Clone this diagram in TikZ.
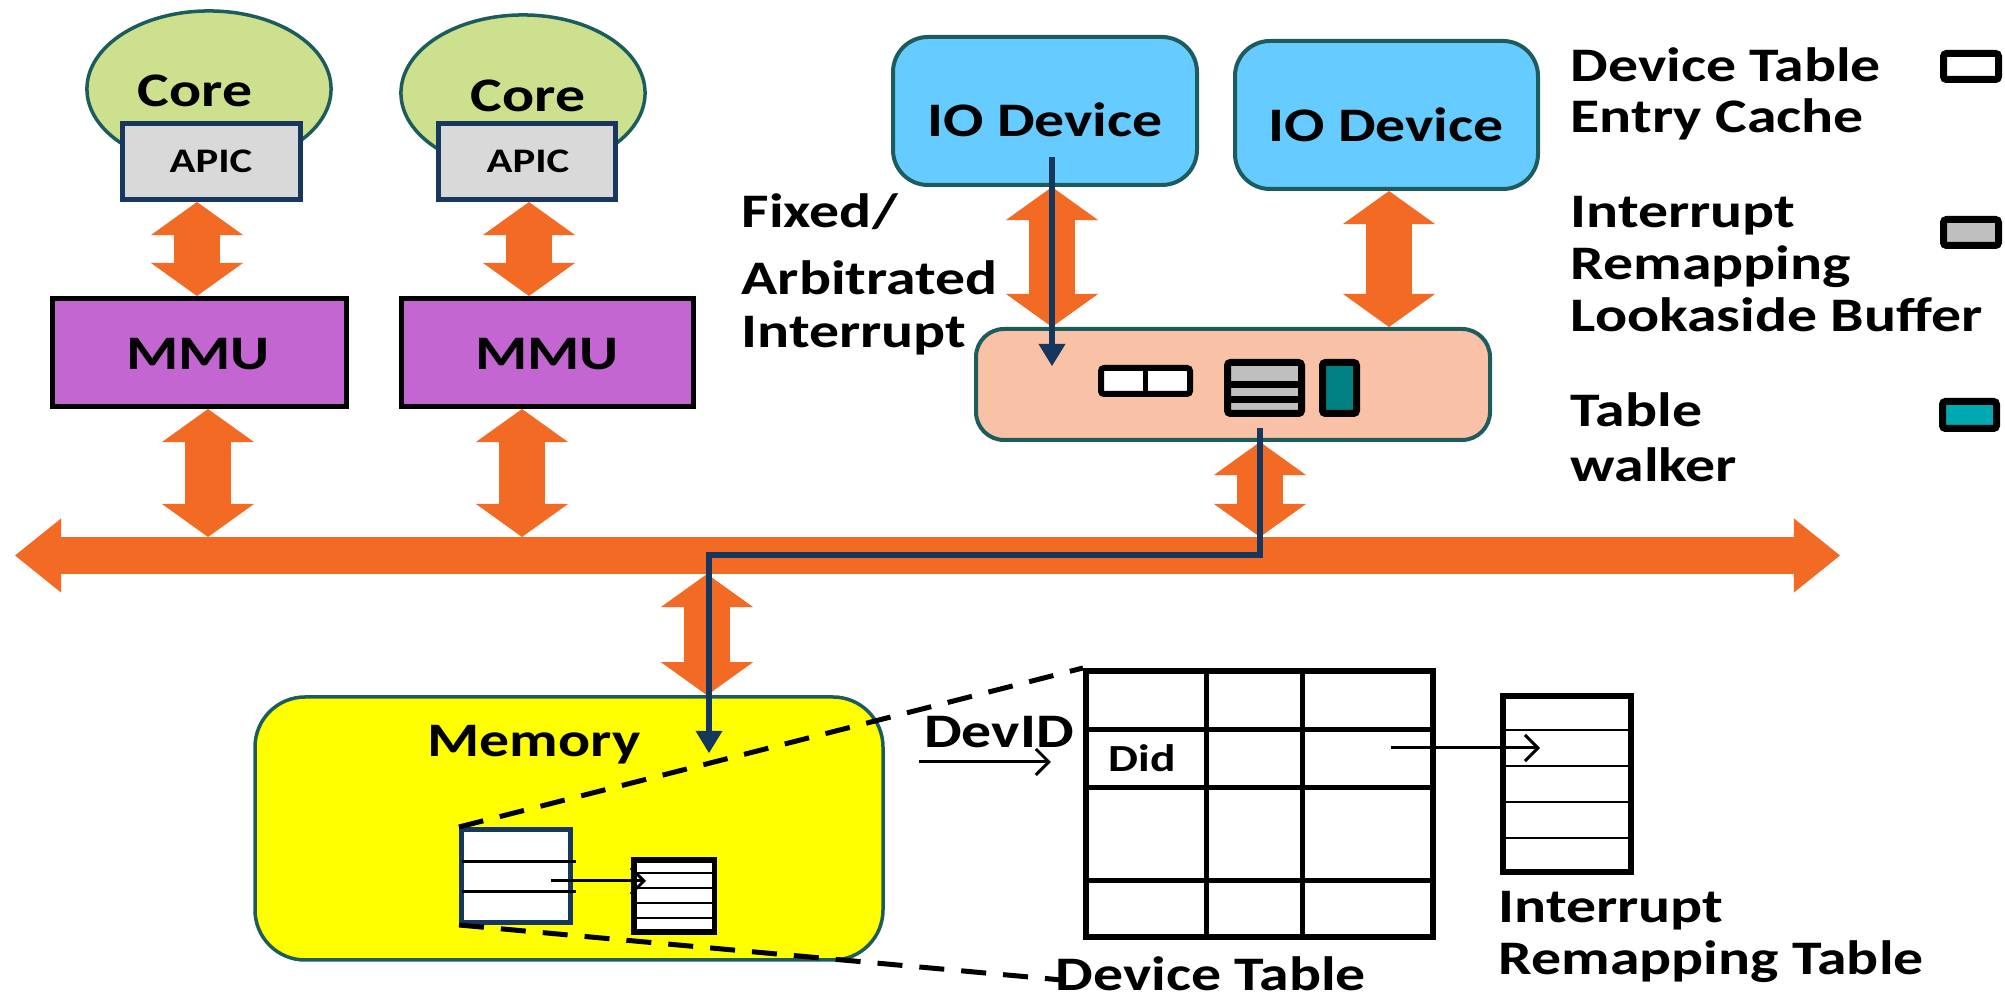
\documentclass[tikz,border=0pt]{standalone}
\usepackage{fontspec}
\newfontfamily\cf[FakeStretch=1.24]{Carlito}
\usetikzlibrary{arrows.meta,fit,shapes.geometric,calc}
\newcommand\txtf[1]{\cf\bfseries\fontsize{#1pt}{#1pt}\selectfont}

\definecolor{busorange}{HTML}{F26A24}
\definecolor{edgeteal}{HTML}{1D5C5C}
\definecolor{corefill}{HTML}{CCE08D}
\definecolor{apicfill}{HTML}{D9D9D9}
\definecolor{apicedge}{HTML}{17375E}
\definecolor{mmufill}{HTML}{C466D1}
\definecolor{iofill}{HTML}{66CCFF}
\definecolor{iommufill}{HTML}{F9C1A6}
\definecolor{memfill}{HTML}{FFFF00}
\definecolor{navyline}{HTML}{17365D}
\definecolor{lookgray}{HTML}{BFBFBF}
\definecolor{walkteal}{HTML}{008080}
\definecolor{keyteal}{HTML}{00A8B0}

\begin{document}
\begin{tikzpicture}[x=0.01cm, y=-0.01cm,
  core/.style={ellipse, draw=edgeteal, fill=corefill, line width=0.035cm, inner sep=0pt,
    minimum width=2.44cm, minimum height=1.56cm},
  apic/.style={draw=apicedge, fill=apicfill, line width=0.05cm, inner sep=0pt},
  mmu/.style={draw=black, fill=mmufill, line width=0.05cm, inner sep=0pt},
  iodev/.style={draw=edgeteal, fill=iofill, line width=0.04cm, inner sep=0pt, rounded corners=0.35cm},
  iommu/.style={draw=edgeteal, fill=iommufill, line width=0.04cm, inner sep=0pt, rounded corners=0.28cm},
  memory/.style={draw=edgeteal, fill=memfill, line width=0.035cm, inner sep=0pt, rounded corners=0.5cm},
  part/.style={draw=black, line width=0.07cm, inner sep=0pt, rounded corners=0.03cm},
  navybox/.style={draw=apicedge, fill=white, line width=0.05cm, inner sep=0pt},
  tablebox/.style={draw=black, fill=white, line width=0.06cm, inner sep=0pt},
  fat/.style={draw=busorange, line width=0.45cm,
    {Triangle[length=0.33cm,width=0.92cm,line width=0pt]}-{Triangle[length=0.33cm,width=0.92cm,line width=0pt]}},
  bus/.style={draw=busorange, line width=0.37cm,
    {Triangle[length=0.46cm,width=0.74cm,line width=0pt]}-{Triangle[length=0.46cm,width=0.74cm,line width=0pt]}},
  irq/.style={draw=navyline, line width=0.06cm, -{Triangle[length=0.22cm,width=0.27cm,line width=0pt]}},
  ptr/.style={draw=black, line width=0.03cm, -{Straight Barb[length=0.13cm,width=0.26cm]}},
  zoomline/.style={draw=black, line width=0.05cm, dash pattern=on 0.25cm off 0.17cm},
  grid/.style={draw=black, line width=0.05cm},
  rowline/.style={draw=black, line width=0.013cm},
  txt/.style={inner sep=0pt, anchor=base, font=\txtf{13.7}},
  txtw/.style={txt, anchor=base west}
]
\useasboundingbox (0,0) rectangle (2005,1001);

% ---- processor cores with their local APICs and MMUs
\node[core] (coreL) at (209,89) {};
\node[core] (coreR) at (523,93) {};
\node[apic, fit={(122.5,123.5) (300.5,199.5)}] (apicL) {};
\node[apic, fit={(438.5,123.5) (615.5,199.5)}] (apicR) {};
\node[mmu, fit={(52.5,298.5) (346.5,406.5)}] (mmuL) {};
\node[mmu, fit={(401.5,298.5) (693.5,406.5)}] (mmuR) {};

% ---- IO devices and the IOMMU
\node[iodev, fit={(893,37) (1197,185)}] (ioL) {};
\node[iodev, fit={(1235,41) (1538,189)}] (ioR) {};
\node[iommu, fit={(976,329) (1490,440)}] (iommu) {};

% ---- main memory
\node[memory, fit={(255,697) (883,960)}] (mem) {};

% ---- system bus and the links onto it
\coordinate (busW) at (15,555.5);
\coordinate (busE) at (1840,555.5);
\coordinate (busTop) at (0,537);
\coordinate (busBot) at (0,574);
\draw[bus] (busW) -- (busE);

\coordinate (l1) at ($(apicL.south)+(-14.5,0)$);
\draw[fat] (l1) -- (l1 |- mmuL.north);
\coordinate (l2) at ($(apicR.south)+(2,0)$);
\draw[fat] (l2) -- (l2 |- mmuR.north);
\coordinate (l3) at ($(mmuL.south)+(8.5,0)$);
\draw[fat] (l3) -- (l3 |- busTop);
\coordinate (l4) at ($(mmuR.south)+(-25.5,0)$);
\draw[fat] (l4) -- (l4 |- busTop);
\coordinate (l5) at ($(ioL.south)+(7,0)$);
\draw[fat] (l5) -- (l5 |- iommu.north);
\coordinate (l6) at ($(ioR.south)+(2.5,0)$);
\draw[fat] (l6) -- (l6 |- iommu.north);
\coordinate (l7) at ($(iommu.south)+(27,0)$);
\draw[fat] (l7) -- (l7 |- busTop);
\coordinate (l8) at (707,574);
\draw[fat] (l8) -- (l8 |- mem.north);

% ---- IOMMU internals: DTE cache, IRLB, table walker
\node[part, fill=white, line width=0.06cm, fit={(1101,368) (1190,394)}] (dtec) {};
\draw[line width=0.05cm] (dtec.north) -- (dtec.south);
\node[part, fill=lookgray, fit={(1227.5,362.5) (1301.5,413.5)}] (irlb) {};
\draw[line width=0.07cm] (1227.5,384.5) -- (1301.5,384.5) (1227.5,399.5) -- (1301.5,399.5);
\node[part, fill=walkteal, fit={(1322.5,362.5) (1356.5,413.5)}] (walker) {};

% ---- interrupt path
\coordinate (irqsrc) at (1052,157);
\coordinate (irqdst) at (1052,366);
\draw[irq] (irqsrc) -- (irqdst);
\coordinate (walkout) at (1260,428);
\coordinate (memhit) at (709,753);
\draw[irq] (walkout) -- (walkout |- busW) -| (memhit);

% ---- device table and remapping table in memory
\node[navybox, fit={(461.5,829.5) (570.5,922.5)}] (memDT) {};
\draw[line width=0.03cm] (461.5,862) -- (576,862) (461.5,892) -- (576,892);
\node[tablebox, line width=0.055cm, fit={(634,860) (714.5,932)}] (memIRT) {};
\draw[rowline] (634,873) -- (714.5,873) (634,888) -- (714.5,888)
               (634,903) -- (714.5,903) (634,918) -- (714.5,918);
\coordinate (dtptr) at (551,881);
\coordinate (irtptr) at (646,881);
\draw[ptr] (dtptr) -- (irtptr);

% ---- expanded device table
\node[tablebox, fit={(1086,671) (1433,937)}] (devT) {};
\draw[grid] (1206,668) -- (1206,940) (1302,668) -- (1302,940)
            (1083,730) -- (1436,730) (1083,788) -- (1436,788) (1083,881) -- (1436,881);
\node[txt, font=\txtf{10.9}] (didtxt) at (1142,772) {Did};
\coordinate (devin) at (919,762);
\draw[ptr, shorten >=0.32cm] (devin) -- (devin -| devT.west);
\node[txt] (devidtxt) at (999,748) {DevID};

% ---- expanded interrupt remapping table
\node[tablebox, fit={(1503,696) (1631,872)}] (irt) {};
\draw[rowline] (1503,730) -- (1631,730) (1503,766) -- (1631,766)
               (1503,802) -- (1631,802) (1503,838) -- (1631,838);
\coordinate (didrow) at (1391,748);
\coordinate (irtrow) at (1540,748);
\draw[ptr] (didrow) -- (irtrow);

% ---- zoom lines from the in-memory table
\coordinate (dtcap) at (1062,980);
\draw[zoomline] (memDT.south west) -- (dtcap);
\draw[zoomline] (memDT.north west) -- (devT.north west);

% ---- labels
\node[txt] (coreLtxt) at (195,107) {Core};
\node[txt] (coreRtxt) at (528,112) {Core};
\node[txt, font=\txtf{9.8}] (apicLtxt) at (211,173) {APIC};
\node[txt, font=\txtf{9.8}] (apicRtxt) at (528,173) {APIC};
\node[txt] (mmuLtxt) at (198,370) {MMU};
\node[txt] (mmuRtxt) at (547,370) {MMU};
\node[txt] (ioLtxt) at (1045,137) {IO Device};
\node[txt] (ioRtxt) at (1386,142) {IO Device};
\node[txtw] (fixtxt) at (741,228) {Fixed/};
\node[txtw] (arbtxt) at (741,295) {Arbitrated};
\node[txtw] (inttxt) at (741,348) {Interrupt};
\node[txt] (memtxt) at (534,757) {Memory};
\node[txtw] (dttxt) at (1055,991) {Device Table};
\node[txtw] (irttxtA) at (1498,923) {Interrupt};
\node[txtw] (irttxtB) at (1498,975) {Remapping Table};

% ---- legend
\node[txtw] (keyA1) at (1570,82) {Device Table};
\node[txtw] (keyA2) at (1570,133) {Entry Cache};
\node[txtw] (keyB1) at (1570,228) {Interrupt};
\node[txtw] (keyB2) at (1570,280) {Remapping};
\node[txtw] (keyB3) at (1570,332) {Lookaside Buffer};
\node[txtw] (keyC1) at (1570,427) {Table};
\node[txtw] (keyC2) at (1570,482) {walker};
\node[part, fill=white, fit={(1943.5,53.5) (1998.5,79.5)}] (keyDTE) {};
\node[part, fill=lookgray, fit={(1943.5,219.5) (1998.5,245.5)}] (keyIRLB) {};
\node[part, fill=keyteal, fit={(1942.5,401.5) (1996.5,428.5)}] (keyWalk) {};
\end{tikzpicture}
\end{document}
